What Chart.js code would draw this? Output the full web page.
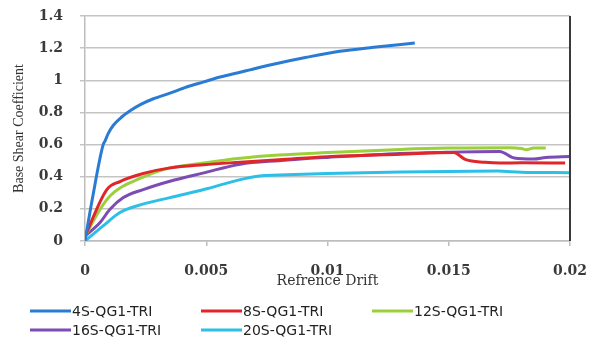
<!DOCTYPE html>
<html>
<head>
<meta charset="utf-8">
<script src="https://cdn.jsdelivr.net/npm/chart.js@4/dist/chart.umd.min.js"></script>
<style>
  body { margin: 0; background: #fff; }
  canvas { display: block; }
</style>
</head>
<body>
<canvas id="driftChart" width="595" height="339"></canvas>
<script>
// ===== Data =====
const seriesNames = ['4S-QG1-TRI', '8S-QG1-TRI', '12S-QG1-TRI', '16S-QG1-TRI', '20S-QG1-TRI'];
const seriesColors = ['#2a7bd4', '#e0262b', '#9bd03a', '#7c4bb3', '#2cc0e8'];

const drift4S = [0, 0.0003, 0.00075, 0.00082, 0.00096, 0.00117, 0.0015, 0.00186, 0.0023, 0.00282, 0.0035, 0.00419, 0.0049, 0.00557, 0.0064, 0.0068, 0.00777, 0.00914, 0.0105, 0.0119, 0.0136];
const shear4S = [0, 0.26, 0.6, 0.62, 0.67, 0.72, 0.77, 0.81, 0.85, 0.885, 0.92, 0.958, 0.99, 1.02, 1.05, 1.065, 1.1, 1.143, 1.18, 1.205, 1.232];

const drift8S = [0, 0.0009, 0.00144, 0.0024, 0.0035, 0.0049, 0.0064, 0.008, 0.01, 0.013, 0.0152, 0.0157, 0.0165, 0.0171, 0.018, 0.0198];
const shear8S = [0.03, 0.32, 0.37, 0.42, 0.455, 0.475, 0.49, 0.505, 0.525, 0.54, 0.551, 0.506, 0.49, 0.485, 0.487, 0.485];

const drift12S = [0, 0.00062, 0.00103, 0.00144, 0.00213, 0.00323, 0.0049, 0.0064, 0.008, 0.01, 0.013, 0.015, 0.0175, 0.018, 0.0182, 0.0185, 0.019];
const shear12S = [0.03, 0.197, 0.28, 0.33, 0.38, 0.444, 0.485, 0.515, 0.535, 0.55, 0.57, 0.578, 0.58, 0.575, 0.568, 0.578, 0.578];

const drift16S = [0, 0.00062, 0.00103, 0.00158, 0.0024, 0.0035, 0.0049, 0.0064, 0.008, 0.01, 0.013, 0.015, 0.0171, 0.0177, 0.0185, 0.019, 0.02];
const shear16S = [0.03, 0.115, 0.197, 0.27, 0.32, 0.372, 0.424, 0.478, 0.5, 0.52, 0.545, 0.553, 0.557, 0.516, 0.51, 0.52, 0.526];

const drift20S = [0, 0.00075, 0.00144, 0.00213, 0.0035, 0.0049, 0.0064, 0.0072, 0.008, 0.01, 0.013, 0.017, 0.018, 0.02];
const shear20S = [0, 0.094, 0.177, 0.218, 0.27, 0.32, 0.382, 0.405, 0.41, 0.42, 0.43, 0.435, 0.428, 0.425];

const xTickLabels = ['0', '0.005', '0.01', '0.015', '0.02'];
const yTickLabels = ['0', '0.2', '0.4', '0.6', '0.8', '1', '1.2', '1.4'];

const driftSets = [drift4S, drift8S, drift12S, drift16S, drift20S];
const shearSets = [shear4S, shear8S, shear12S, shear16S, shear20S];

// ===== Plugins =====
// dark frame line on the right edge of the plot
const rightFrame = {
  id: 'rightFrame',
  afterDraw(chart) {
    const { ctx, chartArea } = chart;
    ctx.save();
    ctx.strokeStyle = '#3a3a3a';
    ctx.lineWidth = 2;
    ctx.beginPath();
    ctx.moveTo(chartArea.right, chartArea.top);
    ctx.lineTo(chartArea.right, chartArea.bottom);
    ctx.stroke();
    ctx.restore();
  }
};

// legend laid out in fixed columns like the original
const columnLegend = {
  id: 'columnLegend',
  afterDraw(chart) {
    const ctx = chart.ctx;
    const startX = 30, colWidth = 171, lineLen = 41;
    const rowY = [311, 330];
    ctx.save();
    ctx.font = "14px 'DejaVu Sans'";
    ctx.textBaseline = 'middle';
    ctx.fillStyle = '#222';
    chart.data.datasets.forEach((ds, i) => {
      const col = i % 3, row = Math.floor(i / 3);
      const x = startX + col * colWidth;
      const y = rowY[row];
      ctx.strokeStyle = ds.borderColor;
      ctx.lineWidth = 3;
      ctx.beginPath();
      ctx.moveTo(x, y);
      ctx.lineTo(x + lineLen, y);
      ctx.stroke();
      ctx.fillText(ds.label, x + lineLen + 1, y + 1);
    });
    ctx.restore();
  }
};

// ===== Chart =====
const ctx = document.getElementById('driftChart');

new Chart(ctx, {
  type: 'line',
  data: {
    datasets: seriesNames.map((name, i) => ({
      label: name,
      data: driftSets[i].map((d, j) => ({ x: d, y: shearSets[i][j] })),
      borderColor: seriesColors[i],
      backgroundColor: seriesColors[i],
      borderWidth: 3,
      pointRadius: 0,
      cubicInterpolationMode: 'monotone',
      fill: false
    }))
  },
  options: {
    responsive: false,
    animation: false,
    layout: { padding: { top: 16, right: 25, bottom: 49, left: 0 } },
    plugins: {
      legend: { display: false },
      tooltip: { enabled: false }
    },
    scales: {
      x: {
        type: 'linear',
        min: 0,
        max: 0.02,
        afterFit: (scale) => {
          scale.height = 49;
          scale.paddingLeft = 0;
          scale.paddingRight = 0;
        },
        afterBuildTicks: (scale) => {
          scale.ticks = xTickLabels.map(t => ({ value: parseFloat(t) }));
        },
        ticks: {
          padding: 17,
          maxRotation: 0,
          color: '#3a3a3a',
          font: { family: "'DejaVu Serif'", size: 14, weight: 'bold' },
          callback: (value, index) => xTickLabels[index]
        },
        grid: {
          drawOnChartArea: false,
          drawTicks: true,
          tickLength: 5,
          color: '#bdbdbd',
          lineWidth: 1.5
        },
        border: { color: '#bdbdbd', width: 1.5 },
        title: {
          display: true,
          text: 'Refrence Drift',
          color: '#333',
          padding: { top: 0, bottom: 0 },
          font: { family: "'DejaVu Serif'", size: 14, lineHeight: 1.2 }
        }
      },
      y: {
        min: 0,
        max: 1.4,
        afterFit: (scale) => {
          scale.width = 85;
          scale.paddingTop = 0;
          scale.paddingBottom = 0;
        },
        afterBuildTicks: (scale) => {
          scale.ticks = yTickLabels.map(t => ({ value: parseFloat(t) }));
        },
        ticks: {
          padding: 17,
          color: '#3a3a3a',
          font: { family: "'DejaVu Serif'", size: 14, weight: 'bold' },
          callback: (value, index) => yTickLabels[index]
        },
        grid: {
          color: '#c4c4c4',
          lineWidth: 1.5,
          tickLength: 5
        },
        border: { color: '#bdbdbd', width: 1.5 },
        title: {
          display: true,
          text: 'Base Shear Coefficient',
          color: '#333',
          padding: { top: 11, bottom: 0 },
          font: { family: "'Liberation Serif'", size: 14, lineHeight: 1.2 }
        }
      }
    }
  },
  plugins: [rightFrame, columnLegend]
});
</script>
</body>
</html>
